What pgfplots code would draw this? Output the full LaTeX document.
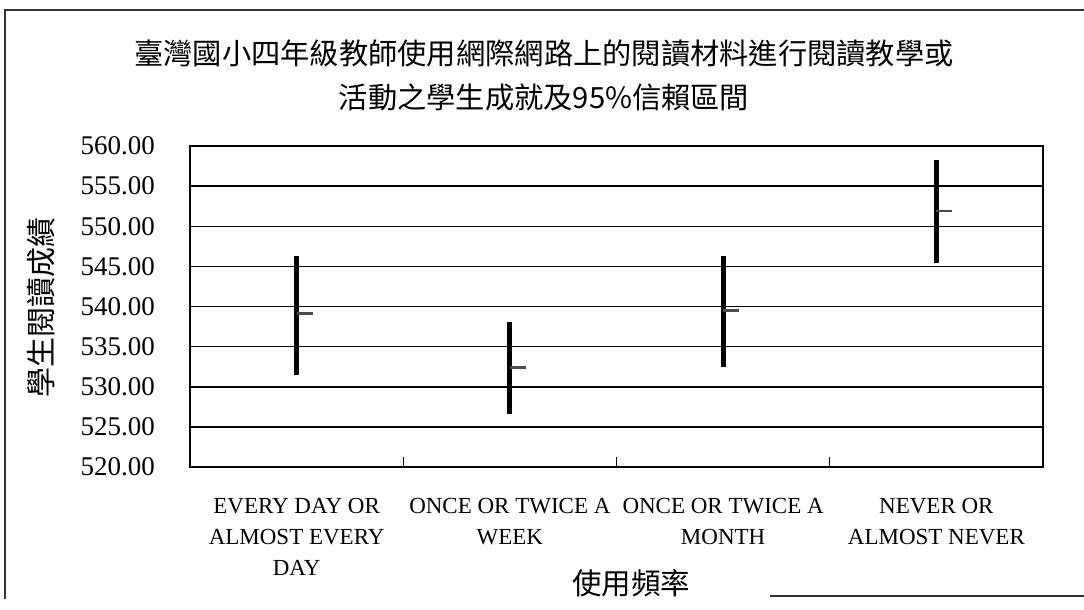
\documentclass[border=0pt]{standalone}
\usepackage{fontspec}
\setmainfont{Liberation Serif}
\newfontfamily\cjk{Noto Sans CJK TC}
\usepackage{pgfplots}
\usepackage{pgfplotstable}
\pgfplotsset{compat=1.18}

% category, mean, lower and upper end of the 95% interval
\pgfplotstableread{
x mean lo hi
0 539.1 531.5 546.3
1 532.4 526.6 538.1
2 539.5 532.4 546.3
3 551.9 545.4 558.3
}\scores

\pgfdeclareplotmark{meantick}{%
  \pgfpathmoveto{\pgfpoint{0pt}{0pt}}%
  \pgfpathlineto{\pgfpoint{6.4pt}{0pt}}%
  \pgfusepathqstroke}

\begin{document}
\begin{tikzpicture}[x=0.4pt,y=0.4pt]
  % one unit = one pixel of the reference, y counted from the bottom
  \path[use as bounding box] (0,0) rectangle (1084,609);
  \draw[black!80, line width=0.5pt] (1084,599) -- (5,599) -- (5,10);
  \draw[black!80, line width=0.5pt] (770,13) -- (1084,13);
  \begin{axis}[
      at={(76pt,56.8pt)}, anchor=south west,
      scale only axis,
      width=341.2pt, height=128.4pt,
      xmin=-0.5, xmax=3.5,
      ymin=520, ymax=560,
      ytick={520,525,...,560},
      xtick={0,1,2,3},
      xticklabels={{EVERY DAY OR\\ALMOST EVERY\\DAY}, {ONCE OR TWICE A\\WEEK}, {ONCE OR TWICE A\\MONTH}, {NEVER OR\\ALMOST NEVER}},
      extra x ticks={0.5,1.5,2.5},
      extra x tick labels={},
      extra x tick style={major tick length=4pt, tick pos=bottom, tick align=inside, grid=none},
      major tick length=0pt,
      ymajorgrids,
      major grid style={black, line width=0.6pt},
      axis line style={black, line width=0.6pt},
      every tick/.style={black, line width=0.5pt},
      yticklabel style={
        /pgf/number format/.cd, fixed, fixed zerofill, precision=2, assume math mode=true,
        /tikz/.cd, anchor=east, xshift=-10.5pt,
        font=\fontsize{10.8}{13}\selectfont},
      xticklabel style={
        align=center, anchor=north, yshift=-9pt,
        font=\fontsize{9.2}{12.4}\selectfont},
      xlabel={使用頻率},
      xlabel style={at={(axis description cs:0.517,-0.362)}, anchor=center,
        font=\cjk\fontsize{11.8}{14}\selectfont},
      ylabel={學生閱讀成績},
      ylabel style={at={(axis description cs:-0.1747,0.498)}, anchor=center,
        font=\cjk\fontsize{12}{14}\selectfont},
      title={臺灣國小四年級教師使用網際網路上的閱讀材料進行閱讀教學或\\活動之學生成就及95\%信賴區間},
      title style={at={(axis description cs:0.415,1.172)}, anchor=center, align=center,
        font=\cjk\fontsize{11.7}{17.5}\selectfont},
    ]
    \addplot[only marks, mark=meantick,
      mark options={line width=1.1pt, draw=black!70},
      error bars/.cd, y dir=both, y explicit, error mark=none,
      error bar style={line width=2pt, black}]
      table[x=x, y=mean,
        y error plus expr=\thisrow{hi}-\thisrow{mean},
        y error minus expr=\thisrow{mean}-\thisrow{lo}] {\scores};
  \end{axis}
\end{tikzpicture}
\end{document}
